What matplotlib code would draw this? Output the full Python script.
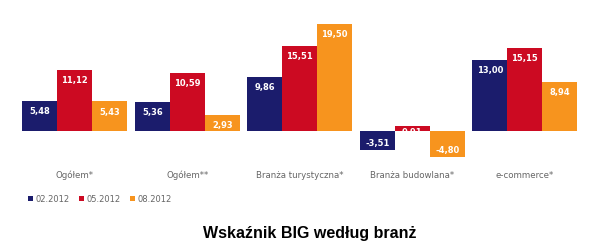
import numpy as np
import matplotlib
matplotlib.use("Agg")
import matplotlib.pyplot as plt
from matplotlib.patches import Patch
from matplotlib.transforms import blended_transform_factory

# data
categories = ["Ogółem*", "Ogółem**", "Branża turystyczna*", "Branża budowlana*", "e-commerce*"]
series_names = ["02.2012", "05.2012", "08.2012"]
v_02 = [5.48, 5.36, 9.86, -3.51, 13.00]
v_05 = [11.12, 10.59, 15.51, 0.91, 15.15]
v_08 = [5.43, 2.93, 19.50, -4.80, 8.94]
title = "Wskaźnik BIG według branż"

COLORS = ["#1b1c6c", "#cc0a22", "#f7941e"]
PX_PER_UNIT = 5.5   # vertical scale of the original, pixels per unit
BAR_W = 0.311

fig = plt.figure(figsize=(6, 2.53), dpi=100)
ax = fig.add_axes([18.5 / 600, (253 - 165) / 253, 562.5 / 600, 155 / 253])
ax.set_xlim(-0.5, 4.5)
ax.set_ylim(-(165 - 132) / PX_PER_UNIT, (132 - 10) / PX_PER_UNIT)
ax.axis("off")

x = np.arange(len(categories))
for i, (vals, color) in enumerate(zip([v_02, v_05, v_08], COLORS)):
    xs = x + (i - 1) * BAR_W
    ax.bar(xs, vals, width=BAR_W, color=color, linewidth=0)
    for xi, v in zip(xs, vals):
        h_px = abs(v) * PX_PER_UNIT
        if v >= 0:
            off = -min(10, h_px)
        else:
            off = min(7.5, h_px)
        ax.annotate(f"{v:.2f}".replace(".", ","), (xi, v),
                    xytext=(0, off * 72 / 100), textcoords="offset points",
                    ha="center", va="center", color="white",
                    fontsize=6, fontweight="bold")

# category labels under each group
trans = blended_transform_factory(ax.transData, ax.transAxes)
for xi, cat in zip(x, categories):
    ax.text(xi, -0.065, cat, transform=trans, ha="center", va="center",
            fontsize=6.2, color="#666666")

handles = [Patch(facecolor=c, edgecolor="none") for c in COLORS]
fig.legend(handles, series_names, loc="center left",
           bbox_to_anchor=(28 / 600, 1 - 200 / 253), ncol=3, frameon=False,
           fontsize=6, labelcolor="#666666", handlelength=0.55, handleheight=0.55,
           handletextpad=0.3, columnspacing=1.2, borderpad=0, borderaxespad=0)

fig.text(310 / 600, 1 - 234 / 253, title, ha="center", va="center",
         fontsize=11.5, fontweight="bold", family="Liberation Sans")

fig.savefig("out.png", dpi=100)
